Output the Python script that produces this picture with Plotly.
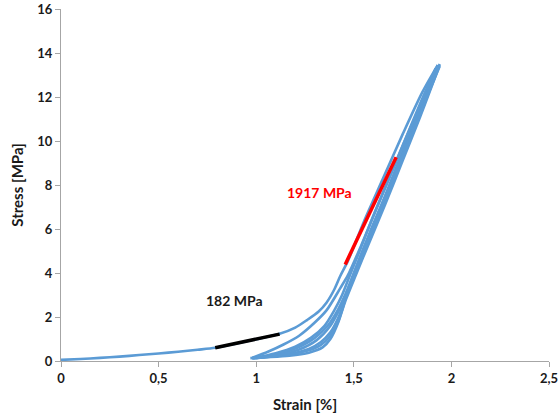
import plotly.graph_objects as go

# ---- data (strain %, stress MPa) ----
load1_x = [0.0, 0.1, 0.2, 0.3, 0.4, 0.5, 0.6, 0.7, 0.79, 0.9, 1.0, 1.12, 1.2, 1.26, 1.32, 1.36, 1.40, 1.43, 1.47, 1.55, 1.65, 1.75, 1.85, 1.93]
load1_y = [0.05, 0.09, 0.14, 0.20, 0.27, 0.34, 0.42, 0.51, 0.60, 0.80, 0.99, 1.24, 1.52, 1.86, 2.25, 2.65, 3.25, 3.85, 4.55, 6.3, 8.3, 10.3, 12.2, 13.45]

unloadA_x = [1.93, 1.86, 1.78, 1.70, 1.62, 1.54, 1.47, 1.43, 1.36, 1.30, 1.22, 1.14, 1.06, 0.98]
unloadA_y = [13.45, 12.0, 10.4, 8.7, 7.0, 5.3, 3.9, 3.3, 2.3, 1.75, 1.15, 0.75, 0.42, 0.15]
reloadA_x = [0.97, 1.05, 1.17, 1.27, 1.34, 1.38, 1.42, 1.46, 1.51, 1.58, 1.66, 1.74, 1.82, 1.92]
reloadA_y = [0.13, 0.17, 0.24, 0.38, 0.62, 1.0, 1.75, 2.9, 4.2, 5.8, 7.5, 9.3, 11.1, 13.3]

unloadB_x = [1.92, 1.84, 1.76, 1.68, 1.60, 1.53, 1.48, 1.44, 1.40, 1.35, 1.28, 1.20, 1.10, 0.99]
unloadB_y = [13.3, 11.7, 10.0, 8.3, 6.6, 5.0, 3.9, 3.0, 2.3, 1.6, 1.05, 0.65, 0.35, 0.14]
reloadB_x = [0.99, 1.08, 1.18, 1.27, 1.33, 1.38, 1.42, 1.46, 1.50, 1.57, 1.65, 1.73, 1.82, 1.93]
reloadB_y = [0.14, 0.22, 0.34, 0.55, 0.85, 1.3, 1.95, 2.9, 3.9, 5.4, 7.1, 8.9, 10.9, 13.4]

unloadC_x = [1.94, 1.86, 1.78, 1.70, 1.62, 1.55, 1.50, 1.46, 1.42, 1.37, 1.30, 1.21, 1.11, 0.98]
unloadC_y = [13.4, 11.7, 10.0, 8.3, 6.6, 5.1, 4.0, 3.1, 2.35, 1.65, 1.05, 0.6, 0.3, 0.12]
reloadC_x = [0.98, 1.07, 1.17, 1.26, 1.33, 1.38, 1.42, 1.46, 1.51, 1.58, 1.66, 1.75, 1.84, 1.94]
reloadC_y = [0.12, 0.2, 0.3, 0.46, 0.72, 1.15, 1.8, 2.8, 3.9, 5.4, 7.1, 9.1, 11.1, 13.45]

unloadD_x = [1.94, 1.87, 1.79, 1.71, 1.63, 1.56, 1.51, 1.47, 1.43, 1.38, 1.31, 1.22, 1.12, 1.00]
unloadD_y = [13.5, 11.9, 10.1, 8.4, 6.7, 5.2, 4.1, 3.2, 2.4, 1.6, 0.95, 0.52, 0.26, 0.13]

fit_low_x = [0.79, 1.12]
fit_low_y = [0.60, 1.22]
fit_high_x = [1.456, 1.717]
fit_high_y = [4.39, 9.26]

label_low = "182 MPa"
label_high = "1917 MPa"

x_tickvals = [0, 0.5, 1, 1.5, 2, 2.5]
x_ticktext = ["0", "0,5", "1", "1,5", "2", "2,5"]
y_tickvals = [0, 2, 4, 6, 8, 10, 12, 14, 16]

BLUE = "#5B9BD5"
FONT = "Lato"
TXT = "#1a1a1a"

fig = go.Figure()
branches = [
    (load1_x, load1_y), (unloadA_x, unloadA_y), (reloadA_x, reloadA_y),
    (unloadB_x, unloadB_y), (reloadB_x, reloadB_y),
    (unloadC_x, unloadC_y), (reloadC_x, reloadC_y),
    (unloadD_x, unloadD_y),
]
for bx, by in branches:
    fig.add_trace(go.Scatter(x=bx, y=by, mode="lines",
                             line=dict(color=BLUE, width=2.6, shape="spline", smoothing=0.8),
                             showlegend=False, hoverinfo="skip"))

fig.add_trace(go.Scatter(x=fit_low_x, y=fit_low_y, mode="lines",
                         line=dict(color="black", width=3.5), showlegend=False))
fig.add_trace(go.Scatter(x=fit_high_x, y=fit_high_y, mode="lines",
                         line=dict(color="#FF0000", width=3.5), showlegend=False))

fig.add_annotation(x=0.89, y=2.76, text=label_low, showarrow=False,
                   font=dict(family=FONT, size=14, color=TXT, weight="bold"))
fig.add_annotation(x=1.326, y=7.65, text=label_high, showarrow=False,
                   font=dict(family=FONT, size=14, color="#FF0000", weight="bold"))

axis_common = dict(showgrid=False, zeroline=False, showline=True, linecolor="#A6A6A6",
                   linewidth=1, ticks="outside", tickcolor="#A6A6A6", ticklen=5,
                   automargin=False,
                   tickfont=dict(family=FONT, size=13, color=TXT, weight="bold"))

fig.update_xaxes(range=[0, 2.5], tickvals=x_tickvals, ticktext=x_ticktext,
                 title=dict(text="Strain [%]", standoff=14,
                            font=dict(family=FONT, size=15, color=TXT, weight="bold")),
                 **axis_common)
fig.update_yaxes(range=[0, 16], tickvals=y_tickvals,
                 title=dict(text="Stress [MPa]", standoff=10,
                            font=dict(family=FONT, size=15, color=TXT, weight="bold")),
                 **axis_common)

fig.update_layout(width=560, height=417, margin=dict(l=61, r=11, t=9, b=56),
                  plot_bgcolor="white", paper_bgcolor="white", hovermode=False)

# remove the default page margin so the figure fills the window exactly
fig.write_html("out.html", config={"displayModeBar": False},
               post_script="document.body.style.margin='0';document.body.style.overflow='hidden';")
